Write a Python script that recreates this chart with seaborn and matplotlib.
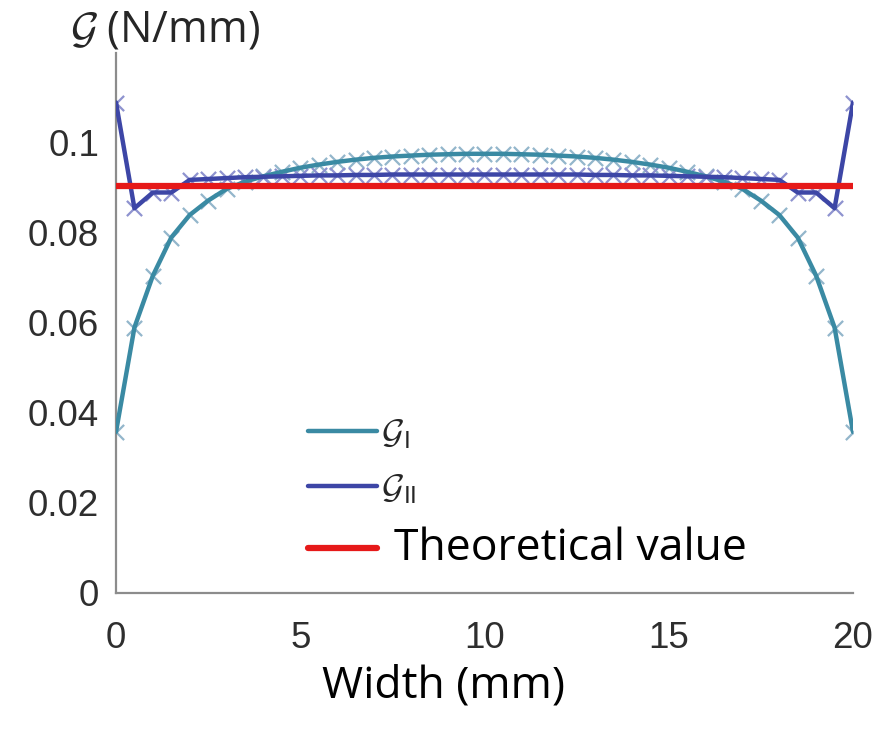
import matplotlib
matplotlib.use("Agg")
import matplotlib.pyplot as plt
import matplotlib.transforms as mtransforms
import seaborn as sns
import pandas as pd
from matplotlib.lines import Line2D

# ---------------- data ----------------
width_mm = [0.0, 0.5, 1.0, 1.5, 2.0, 2.5, 3.0, 3.5, 4.0, 4.5, 5.0, 5.5, 6.0, 6.5, 7.0, 7.5,
            8.0, 8.5, 9.0, 9.5, 10.0, 10.5, 11.0, 11.5, 12.0, 12.5, 13.0, 13.5, 14.0, 14.5,
            15.0, 15.5, 16.0, 16.5, 17.0, 17.5, 18.0, 18.5, 19.0, 19.5, 20.0]
G_I = [0.0358, 0.0590, 0.0705, 0.0790, 0.0840, 0.0872, 0.0898, 0.0914, 0.0926, 0.0936,
       0.0945, 0.0952, 0.0958, 0.0963, 0.0967, 0.0970, 0.0972, 0.0974, 0.0975, 0.0976,
       0.0976, 0.0976, 0.0975, 0.0974, 0.0972, 0.0970, 0.0967, 0.0963, 0.0958, 0.0952,
       0.0945, 0.0936, 0.0926, 0.0914, 0.0898, 0.0872, 0.0840, 0.0790, 0.0705, 0.0590,
       0.0358]
G_II = [0.1090, 0.0855, 0.0890, 0.0890, 0.0918, 0.0920, 0.0922, 0.0924, 0.0925, 0.0926,
        0.0927, 0.0928, 0.0928, 0.0929, 0.0929, 0.0930, 0.0930, 0.0930, 0.0930, 0.0930,
        0.0930, 0.0930, 0.0930, 0.0930, 0.0930, 0.0930, 0.0929, 0.0929, 0.0928, 0.0928,
        0.0927, 0.0926, 0.0925, 0.0924, 0.0922, 0.0920, 0.0918, 0.0890, 0.0890, 0.0855,
        0.1090]
theory_x = [0.0, 20.0]
theory_y = [0.0904, 0.0904]

x_ticks = [0, 5, 10, 15, 20]
y_ticks = [0, 0.02, 0.04, 0.06, 0.08, 0.1]
y_tick_labels = ["0", "0.02", "0.04", "0.06", "0.08", "0.1"]
legend_labels = [r"$\mathcal{G}_{\mathsf{I}}$", r"$\mathcal{G}_{\mathsf{II}}$", "Theoretical value"]

# ---------------- style ----------------
sns.set_theme(style="white")
plt.rcParams["font.family"] = ["Liberation Sans", "DejaVu Sans"]
plt.rcParams["mathtext.fontset"] = "cm"

c_gI, c_gII, c_th = "#3a8aa3", "#3d46a6", "#e61919"
m_gI, m_gII = "#93b6cb", "#8e93cf"

df = pd.DataFrame({"x": width_mm, "GI": G_I, "GII": G_II})
dth = pd.DataFrame({"x": theory_x, "y": theory_y})

fig = plt.figure(figsize=(8.87, 7.31), dpi=100)
ax = fig.add_axes([116 / 887, 138 / 731, (853 - 116) / 887, (593 - 53) / 731])

sns.scatterplot(data=df, x="x", y="GI", marker="x", s=120, color=m_gI, linewidth=1.6,
                ax=ax, zorder=2)
sns.scatterplot(data=df, x="x", y="GII", marker="x", s=120, color=m_gII, linewidth=1.6,
                ax=ax, zorder=2)
sns.lineplot(data=df, x="x", y="GI", color=c_gI, linewidth=3.2, ax=ax, zorder=3)
sns.lineplot(data=df, x="x", y="GII", color=c_gII, linewidth=3.2, ax=ax, zorder=4)
sns.lineplot(data=dth, x="x", y="y", color=c_th, linewidth=4.5, ax=ax, zorder=5)

ax.set_xlim(0, 20)
ax.set_ylim(0, 0.12)
ax.set_xticks(x_ticks)
ax.set_xticklabels([str(t) for t in x_ticks])
ax.set_yticks(y_ticks)
ax.set_yticklabels(y_tick_labels)
ax.set_xlabel("")
ax.set_ylabel("")

for s in ["top", "right"]:
    ax.spines[s].set_visible(False)
for s in ["left", "bottom"]:
    ax.spines[s].set_color("#8c8c8c")
    ax.spines[s].set_linewidth(1.6)

ax.tick_params(axis="both", direction="in", length=8, width=1.4, color="#8c8c8c",
               labelsize=26.5, labelcolor="#2e2e2e")
ax.tick_params(axis="x", pad=20)
ax.tick_params(axis="y", pad=12)

fig.text(444 / 887, 1 - 686 / 731, "Width (mm)", ha="center", va="center",
         fontsize=32, family=["Open Sans", "DejaVu Sans"], color="black")
fig.text(70 / 887, 1 - 30 / 731, r"$\mathcal{G}$ (N/mm)", ha="left", va="center",
         fontsize=31, family=["Open Sans", "DejaVu Sans"], color="#262626")

handles = [Line2D([], [], color=c_gI, linewidth=3.2),
           Line2D([], [], color=c_gII, linewidth=3.2),
           Line2D([], [], color=c_th, linewidth=4.5)]
leg = ax.legend(handles, legend_labels, loc="upper left",
                bbox_to_anchor=(308 / 887, 1 - 417 / 731), bbox_transform=fig.transFigure,
                frameon=False, handlelength=2.0, handletextpad=0.1, borderpad=0,
                borderaxespad=0, labelspacing=0.6, fontsize=25)
texts = leg.get_texts()
texts[0].set_color("#262626")
texts[1].set_color("#262626")
texts[2].set_fontsize(32)
texts[2].set_family(["Open Sans", "DejaVu Sans"])
texts[2].set_color("black")
# extra gap between the red handle and its label, as in the reference
texts[2].set_transform(texts[2].get_transform()
                       + mtransforms.ScaledTranslation(0.13, 0, fig.dpi_scale_trans))

fig.savefig("out.png", dpi=100)
